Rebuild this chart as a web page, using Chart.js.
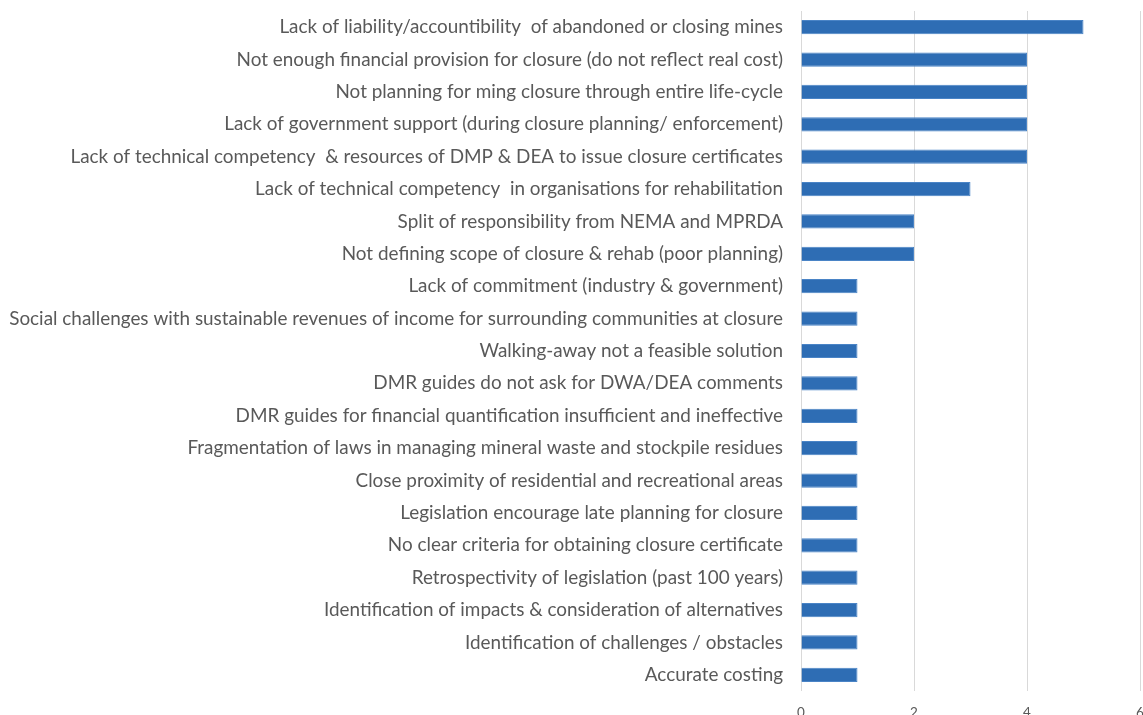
<!DOCTYPE html>
<html>
<head>
<meta charset="utf-8">
<script src="https://cdn.jsdelivr.net/npm/chart.js@4/dist/chart.umd.min.js"></script>
<style>
html,body{margin:0;padding:0;background:#fff;}
#wrap{width:1143px;height:715px;position:relative;}
</style>
</head>
<body>
<div id="wrap"><canvas id="c" width="1143" height="715"></canvas></div>
<script>
const categories = [
  "Lack of liability/accountibility  of abandoned or closing mines",
  "Not enough financial provision for closure (do not reflect real cost)",
  "Not planning for ming closure through entire life-cycle",
  "Lack of government support (during closure planning/ enforcement)",
  "Lack of technical competency  & resources of DMP & DEA to issue closure certificates",
  "Lack of technical competency  in organisations for rehabilitation",
  "Split of responsibility from NEMA and MPRDA",
  "Not defining scope of closure & rehab (poor planning)",
  "Lack of commitment (industry & government)",
  "Social challenges with sustainable revenues of income for surrounding communities at closure",
  "Walking-away not a feasible solution",
  "DMR guides do not ask for DWA/DEA comments",
  "DMR guides for financial quantification insufficient and ineffective",
  "Fragmentation of laws in managing mineral waste and stockpile residues",
  "Close proximity of residential and recreational areas",
  "Legislation encourage late planning for closure",
  "No clear criteria for obtaining closure certificate",
  "Retrospectivity of legislation (past 100 years)",
  "Identification of impacts & consideration of alternatives",
  "Identification of challenges / obstacles",
  "Accurate costing"
];
const values = [5,4,4,4,4,3,2,2,1,1,1,1,1,1,1,1,1,1,1,1,1];
const xTicks = [0,2,4,6];

new Chart(document.getElementById('c'), {
  type: 'bar',
  data: {
    labels: categories,
    datasets: [{
      data: values,
      backgroundColor: '#2E6DB4',
      borderColor: '#4A84C6',
      borderWidth: 1,
      categoryPercentage: 1,
      barPercentage: 0.44
    }]
  },
  options: {
    indexAxis: 'y',
    responsive: false,
    animation: false,
    layout: { padding: { top: 11, right: 3, left: 0, bottom: 0 } },
    plugins: { legend: { display: false }, tooltip: { enabled: false } },
    scales: {
      x: {
        min: 0, max: 6,
        afterBuildTicks: (s) => { s.ticks = xTicks.map(v => ({ value: v })); },
        grid: { color: '#D9D9D9', lineWidth: 1, drawTicks: false },
        border: { display: false },
        ticks: { color: '#595959', font: { family: 'Lato', size: 13.5 }, padding: 14 },
        afterFit: (s) => { s.height = 24; s.paddingLeft = 0; s.paddingRight = 0; s.paddingTop = 0; s.paddingBottom = 0; }
      },
      y: {
        grid: { display: false, drawTicks: false },
        border: { display: false },
        ticks: { color: '#595959', font: { family: 'Lato', size: 18.9 }, padding: 18, autoSkip: false },
        afterFit: (s) => { s.width = 801; s.paddingTop = 0; s.paddingBottom = 0; s.paddingLeft = 0; s.paddingRight = 0; }
      }
    }
  }
});
</script>
</body>
</html>
